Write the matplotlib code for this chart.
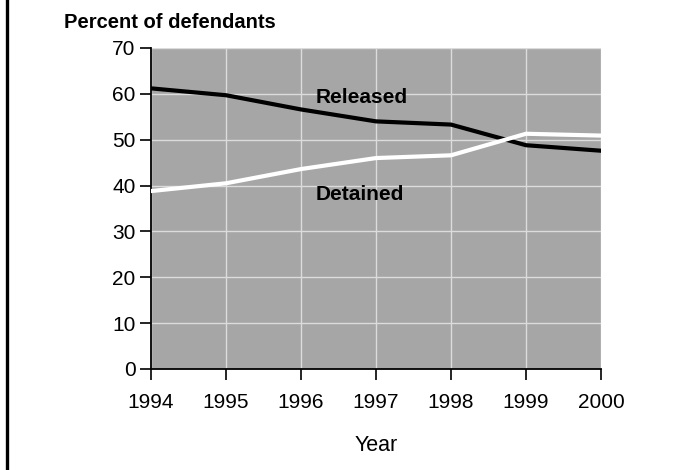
import matplotlib.pyplot as plt
from matplotlib.lines import Line2D

plt.rcParams['font.family'] = ['Liberation Sans', 'DejaVu Sans']

# --- data ---
years = [1994, 1995, 1996, 1997, 1998, 1999, 2000]
released = [61.2, 59.7, 56.6, 54.0, 53.3, 48.8, 47.6]
detained = [38.8, 40.5, 43.6, 46.0, 46.6, 51.3, 50.9]

fig = plt.figure(figsize=(6.86, 4.70), dpi=100)
ax = fig.add_axes([151 / 686, 1 - 369 / 470, 450 / 686, 321 / 470])
ax.set_facecolor('#a6a6a6')

ax.plot(years, released, color='black', lw=3, solid_joinstyle='round', zorder=3)
ax.plot(years, detained, color='white', lw=3, solid_joinstyle='round', zorder=3)

ax.set_xlim(1994, 2000)
ax.set_ylim(0, 70)
ax.set_xticks(years)
ax.set_yticks(range(0, 71, 10))
ax.grid(True, color='#dcdcdc', lw=1)
ax.set_axisbelow(True)

for s in ['top', 'right']:
    ax.spines[s].set_visible(False)
for s in ['left', 'bottom']:
    ax.spines[s].set_linewidth(1.3)
ax.tick_params(axis='x', length=8, width=1.2, pad=9, labelsize=15)
ax.tick_params(axis='y', length=8, width=1.2, pad=3, labelsize=15)

ax.set_xlabel('Year', fontsize=15.5, labelpad=17)

ax.text(1996.2, 59.3, 'Released', fontsize=15, fontweight='bold', va='center', ha='left')
ax.text(1996.2, 38.1, 'Detained', fontsize=15, fontweight='bold', va='center', ha='left')

fig.text(64 / 686, 1 - 22 / 470, 'Percent of defendants', fontsize=14.5,
         fontweight='bold', ha='left', va='center')

# left frame line of the original graphic
fig.add_artist(Line2D([6.5 / 686, 6.5 / 686], [0, 1], color='black', lw=2.4,
                      transform=fig.transFigure))

fig.savefig('out.png', dpi=100)
